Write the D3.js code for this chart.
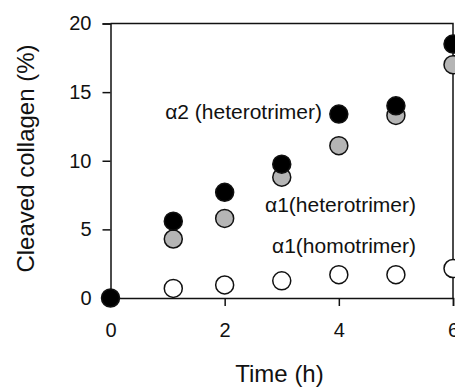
<!DOCTYPE html>
<html>
<head>
<meta charset="utf-8">
<script src="https://cdn.jsdelivr.net/npm/d3@7"></script>
<style>
  html, body { margin: 0; padding: 0; background: #fff; overflow: hidden; }
  svg { display: block; font-family: "Liberation Sans", Arial, Helvetica, sans-serif; }
</style>
</head>
<body>
<div id="chart"></div>
<script>
// Data
const timesHetero = [0, 1.1, 2, 3, 4, 5, 6];
const alpha2Hetero = [0, 5.6, 7.7, 9.75, 13.4, 14.0, 18.5];
const alpha1Hetero = [null, 4.3, 5.8, 8.8, 11.1, 13.3, 17.0];
const alpha1Homo   = [null, 0.7, 0.95, 1.25, 1.7, 1.7, 2.15];
const xTicks = [0, 2, 4, 6];
const yTicks = [0, 5, 10, 15, 20];
const seriesLabels = ["\u03B12 (heterotrimer)", "\u03B11(heterotrimer)", "\u03B11(homotrimer)"];

const W = 520, H = 387;
const m = { left: 110.5, top: 23.5, right: 520 - 453, bottom: 387 - 298 };

const svg = d3.select("#chart").append("svg").attr("width", W).attr("height", H);

const x = d3.scaleLinear().domain([0, 6]).range([m.left, W - m.right]);
const y = d3.scaleLinear().domain([0, 20]).range([H - m.bottom, m.top]);

// Frame (top and right)
svg.append("path")
  .attr("d", `M${x(0)},${y(20)}H${x(6)}V${y(0)}`)
  .attr("fill", "none").attr("stroke", "#111").attr("stroke-width", 1.5);

const xAxis = svg.append("g")
  .attr("transform", `translate(0,${y(0)})`)
  .call(d3.axisBottom(x).tickValues(xTicks).tickFormat(d3.format("d")).tickSize(8).tickPadding(17));
const yAxis = svg.append("g")
  .attr("transform", `translate(${x(0)},0)`)
  .call(d3.axisLeft(y).tickValues(yTicks).tickFormat(d3.format("d")).tickSize(8).tickPadding(11));

[xAxis, yAxis].forEach(g => {
  g.select(".domain").attr("stroke", "#111").attr("stroke-width", 1.5);
  g.selectAll(".tick line").attr("stroke", "#111").attr("stroke-width", 1.5);
  g.selectAll(".tick text").attr("fill", "#111").style("font-size", "20px")
    .style("font-family", "'Liberation Sans', Arial, sans-serif");
});

// Axis titles
svg.append("text")
  .attr("x", 279.5).attr("y", 382)
  .attr("text-anchor", "middle")
  .style("font-size", "24px").attr("fill", "#111")
  .text("Time (h)");
svg.append("text")
  .attr("transform", `translate(34,158.5) rotate(-90)`)
  .attr("text-anchor", "middle")
  .style("font-size", "24px").attr("fill", "#111")
  .text("Cleaved collagen (%)");

// Points
const r = 9;
function drawSeries(vals, fill) {
  const pts = timesHetero.map((t, i) => ({ t, v: vals[i] })).filter(d => d.v !== null);
  svg.append("g").selectAll("circle").data(pts).join("circle")
    .attr("cx", d => x(d.t)).attr("cy", d => y(d.v)).attr("r", r)
    .attr("fill", fill).attr("stroke", "#111").attr("stroke-width", 1.5);
}
drawSeries(alpha1Homo, "#fff");
drawSeries(alpha1Hetero, "#b5b5b5");
drawSeries(alpha2Hetero, "#000");

// Series labels
const labelPos = [[322, 119], [416, 212], [416, 253]];
seriesLabels.forEach((s, i) => {
  svg.append("text")
    .attr("x", labelPos[i][0]).attr("y", labelPos[i][1])
    .attr("text-anchor", "end")
    .style("font-size", "21px").attr("fill", "#111")
    .text(s);
});
</script>
</body>
</html>
